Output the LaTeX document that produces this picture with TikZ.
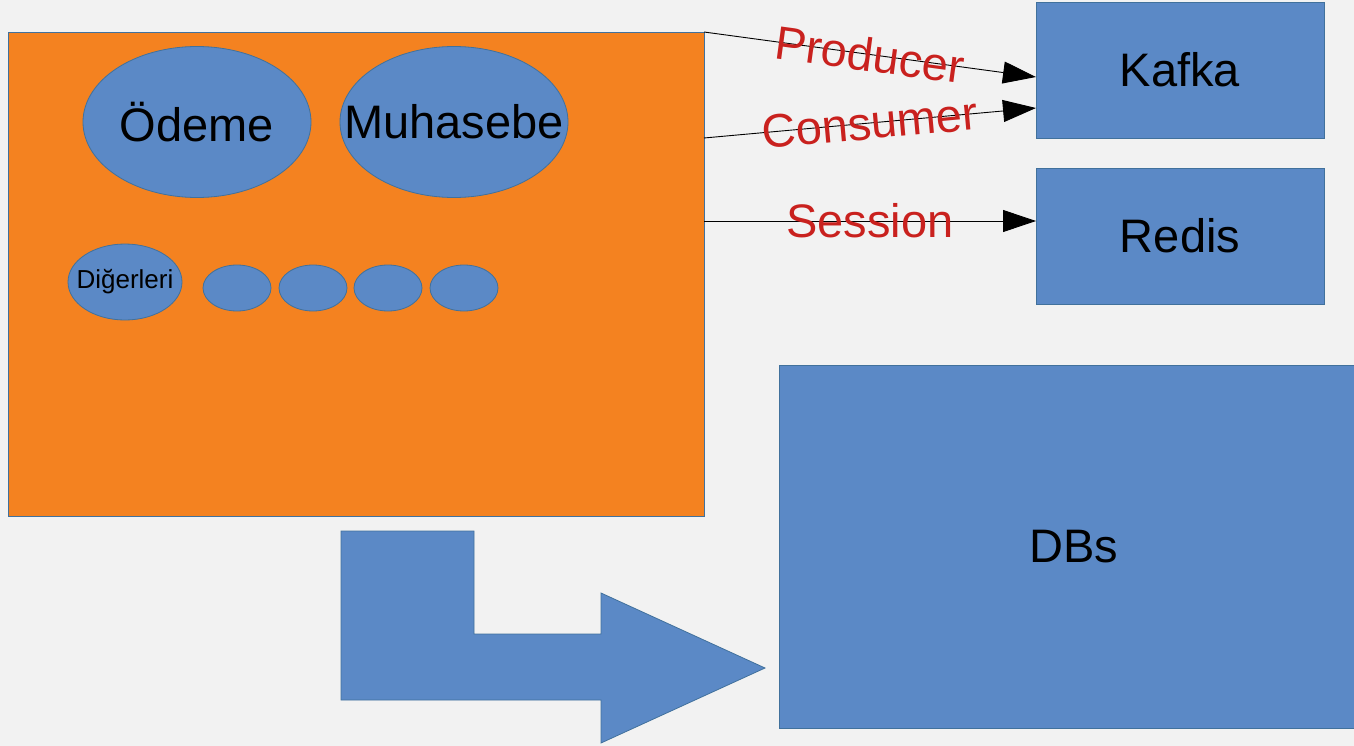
\documentclass[tikz,border=0pt]{standalone}
\usepackage{fontspec}
\setmainfont{Liberation Sans}
\usetikzlibrary{arrows.meta, positioning, shapes.geometric}
\definecolor{boxblue}{HTML}{5B89C6}
\definecolor{edgeblue}{HTML}{41719C}
\definecolor{apporange}{HTML}{F48220}
\definecolor{labelred}{HTML}{C9211E}
\definecolor{slidegray}{HTML}{F2F2F2}
\newcommand{\BigText}{\fontsize{47}{52}\selectfont}
\newcommand{\SmallText}{\fontsize{26}{30}\selectfont}
\tikzset{
    bluebox/.style={rectangle, draw=edgeblue, fill=boxblue, line width=0.8pt, inner sep=0pt, outer sep=0pt, font=\BigText},
    service/.style={ellipse, draw=edgeblue, fill=boxblue, line width=0.8pt, inner sep=0pt, outer sep=0pt},
    flow/.style={draw=black, line width=0.9pt, -{Triangle[length=33pt, width=22pt]}},
    flowlabel/.style={font=\BigText, text=labelred, inner sep=0pt, sloped, midway},
}

\begin{document}
\begin{tikzpicture}[x=1pt, y=-1pt]
    \useasboundingbox[fill=slidegray] (0,0) rectangle (1354,746);

    \node[bluebox, fill=apporange, minimum width=696pt, minimum height=484pt] (app) at (356,274) {};

    \node[service, minimum width=228pt, minimum height=151pt,
          label={[font=\BigText]center:Ödeme}] (odeme) at (197,122) {};
    \node[service, minimum width=228pt, minimum height=151pt, right=29pt of odeme,
          label={[font=\BigText]center:Muhasebe}] (muhasebe) {};

    \node[service, minimum width=114pt, minimum height=76pt,
          label={[font=\SmallText]center:Diğerleri}] (diger) at (125,282) {};
    \foreach \x [count=\i] in {237,313,388,464}
        \node[service, minimum width=68pt, minimum height=46pt] (extra\i) at (\x,288) {};

    \node[bluebox, minimum width=288pt, minimum height=136pt] (kafka) at (1180,70) {Kafka};
    \node[bluebox, minimum width=288pt, minimum height=136pt, below=30pt of kafka] (redis) {Redis};
    \node[bluebox, minimum width=590pt, minimum height=363pt] (dbs) at (1074,546.5) {DBs};

    \draw[flow] (app.north east) -- node[flowlabel] {Producer} ([yshift=-7pt]kafka.west);
    \draw[flow] ([yshift=-106pt]app.north east) -- node[flowlabel] {Consumer} ([yshift=-38pt]kafka.west);
    \draw[flow] ([yshift=-189pt]app.north east) -- node[flowlabel] {Session} ([yshift=15pt]redis.west);

    % bent arrow towards the databases
    \draw[draw=edgeblue, fill=boxblue, line width=0.8pt]
        (341,531) -- (474,531) -- (474,634) -- (601,634) -- (601,593) -- (765,668)
        -- (601,743) -- (601,700) -- (341,700) -- cycle;
\end{tikzpicture}
\end{document}
